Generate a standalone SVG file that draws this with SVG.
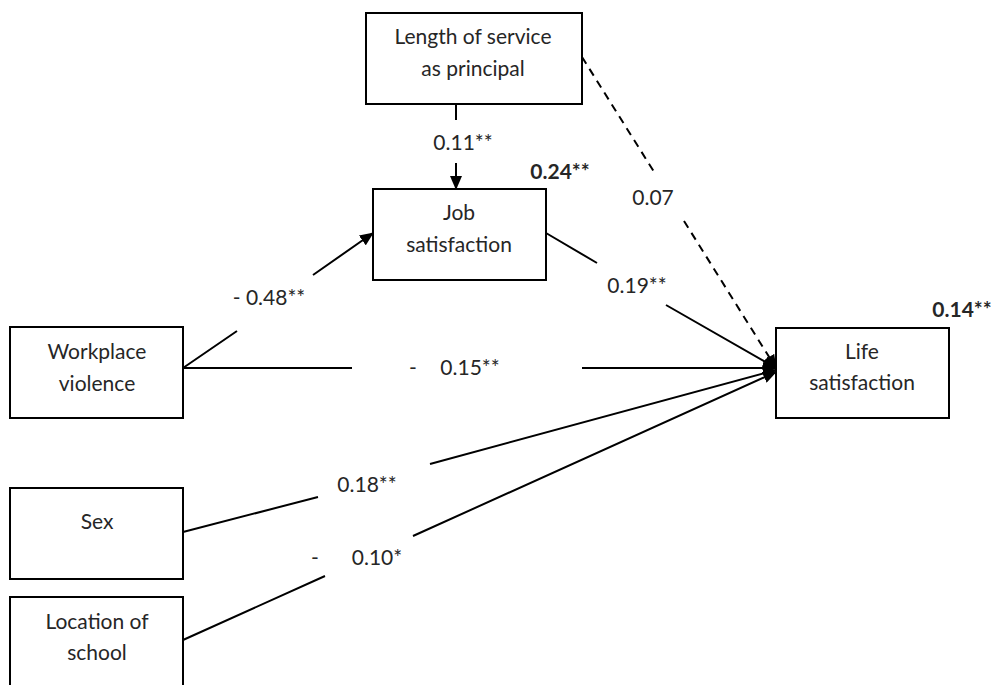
<svg xmlns="http://www.w3.org/2000/svg" width="997" height="685" viewBox="0 0 997 685">
<style>
.box{fill:#fff;stroke:#000;stroke-width:2}
.t{font-family:Lato,"Open Sans","Liberation Sans",sans-serif;font-size:21px;fill:#262626;text-anchor:middle}
.b{font-weight:bold}
.c{fill:none;stroke:#000;stroke-width:2}
.d{stroke-dasharray:8,6}
</style>
<defs>
<marker id="ah" markerUnits="userSpaceOnUse" markerWidth="14" markerHeight="12" viewBox="0 0 14 12" refX="13" refY="6" orient="auto">
<path d="M0,0 L14,6 L0,12 z" fill="#000"/>
</marker>
</defs>
<rect width="997" height="685" fill="#fff"/>
<g id="connectors">
<path class="c" d="M456,104 L456,120 M456,163 L456,189" marker-end="url(#ah)"/>
<path class="c" d="M183,368 L237,331 M313,275 L373,233" marker-end="url(#ah)"/>
<path class="c" d="M183,368 L352,368 M582,368 L776,368" marker-end="url(#ah)"/>
<path class="c" d="M546,233 L597,263 M666,305 L776,368" marker-end="url(#ah)"/>
<path class="c d" d="M582,57 L656,175 M684,221 L776,368" marker-end="url(#ah)"/>
<path class="c" d="M183,532 L318,497 M430,464 L776,370" marker-end="url(#ah)"/>
<path class="c" d="M183,640 L325,576 M413,536 L776,372" marker-end="url(#ah)"/>
</g>
<g id="length">
<rect class="box" x="366" y="13" width="216" height="91"/>
<text class="t" x="473" y="44">Length of service</text>
<text class="t" x="473" y="76">as principal</text>
</g>
<g id="job">
<rect class="box" x="373" y="189" width="173" height="91"/>
<text class="t" x="459" y="220">Job</text>
<text class="t" x="459" y="252">satisfaction</text>
</g>
<g id="workplace">
<rect class="box" x="10" y="327" width="173" height="91"/>
<text class="t" x="97" y="359">Workplace</text>
<text class="t" x="97" y="391">violence</text>
</g>
<g id="life">
<rect class="box" x="776" y="328" width="173" height="90"/>
<text class="t" x="862" y="359">Life</text>
<text class="t" x="862" y="390">satisfaction</text>
</g>
<g id="sex">
<rect class="box" x="10" y="488" width="173" height="91"/>
<text class="t" x="97" y="529">Sex</text>
</g>
<g id="location">
<rect class="box" x="10" y="597" width="173" height="100"/>
<text class="t" x="97" y="629">Location of</text>
<text class="t" x="97" y="660">school</text>
</g>
<g id="labels">
<text class="t" x="463" y="150">0.11**</text>
<text class="t b" x="560" y="179">0.24**</text>
<text class="t" x="269" y="305">- 0.48**</text>
<text class="t" x="413" y="375">-</text>
<text class="t" x="470" y="375">0.15**</text>
<text class="t" x="637" y="293">0.19**</text>
<text class="t" x="653" y="205">0.07</text>
<text class="t b" x="962" y="317">0.14**</text>
<text class="t" x="367" y="492">0.18**</text>
<text class="t" x="315" y="565">-</text>
<text class="t" x="377" y="565">0.10*</text>
</g>
</svg>
